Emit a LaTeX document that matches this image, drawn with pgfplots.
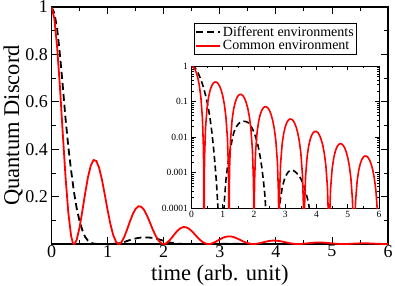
\documentclass[border=0pt]{standalone}
\usepackage{fontspec}
\setmainfont{Liberation Serif}
\usepackage{pgfplots}
\usepackage{pgfplotstable}
\pgfplotsset{compat=1.18}

\pgfplotstableread{
t v
0 1
0.05 0.952
0.1 0.832
0.15 0.664
0.2 0.47
0.25 0.284
0.3 0.132
0.35 0.0335
0.38 0.00536
0.39 0.00133
0.4 1e-10
0.41 0.000798
0.42 0.003156
0.45 0.01893
0.5 0.06927
0.55 0.1389
0.6 0.2140
0.65 0.2815
0.7 0.3305
0.75 0.3543
0.8 0.3504
0.85 0.3206
0.9 0.2707
0.95 0.2085
1.0 0.1434
1.05 0.08424
1.1 0.03802
1.15 0.009397
1.18 0.001476
1.19 0.000366
1.2 1e-10
1.21 0.0003586
1.22 0.001418
1.25 0.008506
1.3 0.03113
1.35 0.06241
1.4 0.09616
1.45 0.1265
1.5 0.1485
1.55 0.1592
1.6 0.1574
1.65 0.1441
1.7 0.1216
1.75 0.09369
1.8 0.06443
1.85 0.03785
1.9 0.01708
1.95 0.004222
1.98 0.0006632
1.99 0.0001645
2.0 1e-10
2.01 0.0001611
2.02 0.0006372
2.05 0.003822
2.1 0.01399
2.15 0.02804
2.2 0.04321
2.25 0.05683
2.3 0.06673
2.35 0.07153
2.4 0.07074
2.45 0.06473
2.5 0.05465
2.55 0.04210
2.6 0.02895
2.65 0.01701
2.7 0.007676
2.75 0.001897
2.78 0.000298
2.79 0.0000739
2.8 1e-10
2.81 0.0000724
2.82 0.0002863
2.85 0.001717
2.9 0.006284
2.95 0.01260
3.0 0.01941
3.05 0.02554
3.1 0.02998
3.15 0.03214
3.2 0.03179
3.25 0.02908
3.3 0.02456
3.35 0.01892
3.4 0.01301
3.45 0.007642
3.5 0.003449
3.55 0.0008525
3.58 0.0001339
3.59 0.0000332
3.6 1e-10
3.61 0.0000325
3.62 0.0001286
3.65 0.0007716
3.7 0.002824
3.75 0.005661
3.8 0.008722
3.85 0.01147
3.9 0.01347
3.95 0.01444
4.0 0.01428
4.05 0.01307
4.1 0.01103
4.15 0.008500
4.2 0.005845
4.25 0.003434
4.3 0.001550
4.35 0.0003830
4.38 0.0000602
4.39 0.0000149
4.4 1e-10
4.41 0.0000146
4.42 0.0000578
4.45 0.0003467
4.5 0.001269
4.55 0.002544
4.6 0.003919
4.65 0.005155
4.7 0.006054
4.75 0.006490
4.8 0.006418
4.85 0.005873
4.9 0.004957
4.95 0.003819
5.0 0.002627
5.05 0.001543
5.1 0.0006963
5.15 0.0001721
5.18 0.000027
5.19 0.0000067
5.2 1e-10
5.21 0.0000066
5.22 0.000026
5.25 0.0001558
5.3 0.0005701
5.35 0.001143
5.4 0.001761
5.45 0.002316
5.5 0.002720
5.55 0.002916
5.6 0.002884
5.65 0.002638
5.7 0.002228
5.75 0.001716
5.8 0.00118
5.85 0.0006933
5.9 0.0003129
5.95 0.0000773
5.98 0.0000121
5.99 0.000003
6.0 1e-10
}\redtab

\pgfplotstableread{
t v
0 1
0.05 0.975
0.1 0.91
0.15 0.8
0.2 0.67
0.25 0.53
0.3 0.41
0.35 0.31
0.4 0.22
0.45 0.15
0.5 0.097
0.55 0.058
0.6 0.03
0.65 0.014
0.7 0.0055
0.75 0.0018
0.8 0.0005
0.85 0.00009
0.9 0.000008
0.95 1e-10
1.0 0.00002
1.05 0.00015
1.1 0.0006
1.15 0.0014
1.2 0.0028
1.25 0.0048
1.3 0.0085
1.35 0.013
1.4 0.0168
1.45 0.0203
1.5 0.0233
1.55 0.0257
1.6 0.0272
1.65 0.0278
1.7 0.0276
1.75 0.027
1.8 0.0258
1.85 0.0235
1.9 0.0205
1.95 0.017
2.0 0.0135
2.05 0.0102
2.1 0.0073
2.15 0.0047
2.2 0.0027
2.25 0.0014
2.3 0.0006
2.35 0.00022
2.4 0.00004
2.45 1e-10
2.7 1e-10
2.75 0.000015
2.8 0.00008
2.85 0.00019
2.9 0.00036
2.95 0.00055
3.0 0.00075
3.05 0.0009
3.1 0.00105
3.15 0.00113
3.2 0.00115
3.25 0.00114
3.3 0.00108
3.35 0.00099
3.4 0.00089
3.45 0.00078
3.5 0.00066
3.55 0.00053
3.6 0.0004
3.65 0.00029
3.7 0.0002
3.75 0.00013
3.8 0.00006
3.85 0.00001
3.9 1e-10
4.5 1e-10
6.0 1e-10
}\blacktab

\begin{document}
\begin{tikzpicture}[x=1pt,y=1pt]
\useasboundingbox (0,0) rectangle (395,285);
\begin{axis}[
  at={(51.5pt,41pt)}, anchor=south west,
  scale only axis, width=336.5pt, height=237pt,
  xmin=0, xmax=6, ymin=0, ymax=1,
  xtick={0,1,2,3,4,5,6}, minor x tick num=1,
  ytick={0.2,0.4,0.6,0.8,1}, minor ytick={0.1,0.3,0.5,0.7,0.9},
  major tick length=7pt, minor tick length=4pt,
  tick style={black, line width=0.8pt},
  axis line style={line width=1.2pt},
  ticklabel style={font=\fontsize{18}{20}\selectfont},
  xticklabel style={inner sep=1pt},
  /pgf/number format/assume math mode=true,
  /pgf/number format/fixed,
  xlabel={time (arb. unit)}, ylabel={Quantum Discord},
  label style={font=\fontsize{22.5}{25}\selectfont},
  xlabel style={at={(axis description cs:0.5,-0.132)}, anchor=center, inner sep=0pt},
  ylabel style={at={(axis description cs:-0.114,0.5)}, anchor=center},
  legend style={at={(axis description cs:0.908,0.9325)}, anchor=north east,
    draw=black, line width=0.6pt, font=\fontsize{14}{15}\selectfont,
    inner sep=1pt, row sep=-1pt, cells={anchor=west}},
  legend image code/.code={\draw[#1] (0pt,0pt) -- (24pt,0pt);},
]
\addplot[black, line width=1.8pt, dash pattern=on 7pt off 4pt] table[x=t,y=v] {\blacktab};
\addlegendentry{Different environments}
\addplot[red, line width=1.8pt] table[x=t,y=v] {\redtab};
\addlegendentry{Common environment}
\end{axis}
\begin{axis}[
  at={(191.5pt,77pt)}, anchor=south west,
  scale only axis, width=187.5pt, height=142pt,
  xmin=0, xmax=6, ymode=log, ymin=1e-4, ymax=1,
  xtick={0,1,2,3,4,5,6}, minor x tick num=1,
  ytick={0.0001,0.001,0.01,0.1,1},
  yticklabels={0.0001,0.001,0.01,0.1,1},
  minor ytick={0.0002,0.0003,0.0004,0.0005,0.0006,0.0007,0.0008,0.0009,
    0.002,0.003,0.004,0.005,0.006,0.007,0.008,0.009,
    0.02,0.03,0.04,0.05,0.06,0.07,0.08,0.09,
    0.2,0.3,0.4,0.5,0.6,0.7,0.8,0.9},
  major tick length=4pt, minor tick length=2pt,
  tick style={black, line width=0.6pt},
  axis line style={line width=1pt},
  axis background/.style={fill=white},
  ticklabel style={font=\fontsize{9.5}{10}\selectfont},
  /pgf/number format/assume math mode=true,
]
\addplot[black, line width=1.6pt, dash pattern=on 6pt off 3.5pt] table[x=t,y=v] {\blacktab};
\addplot[red, line width=1.6pt] table[x=t,y=v] {\redtab};
\end{axis}
\end{tikzpicture}
\end{document}
